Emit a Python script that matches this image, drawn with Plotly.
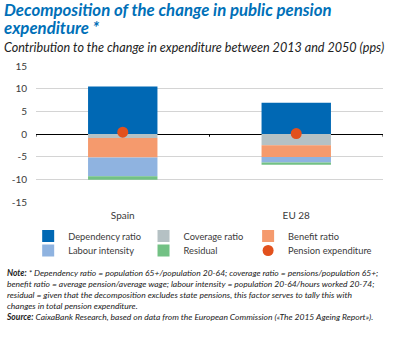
import plotly.graph_objects as go

# Contribution of each factor to the change in public pension expenditure, 2013-2050 (pps)
countries = ["Spain", "EU 28"]
dependency_ratio = [10.5, 6.9]
coverage_ratio = [-0.9, -2.5]
benefit_ratio = [-4.3, -2.6]
labour_intensity = [-4.1, -1.2]
residual = [-0.8, -0.5]
pension_expenditure = [0.4, 0.1]

y_ticks = [15, 10, 5, 0, -5, -10, -15]
y_tick_labels = ["15", "10", "5", "0", "-5", "-10", "-15"]

TEXT = "#3a3a3a"
BASE_FONT = "Lato"

W, H = 396, 338
ML, MR, MT, MB = 28, 13, 66, 136
PW, PH = W - ML - MR, H - MT - MB


def px_x(x):
    return (x - ML) / PW


def px_y(y):
    return (H - MB - y) / PH


# legend slot (left px, row centre px) for each series: 3 columns x 2 rows
legend_cols = [20, 138, 245]
legend_rows = [236, 250.5]

bar_series = [
    ("Dependency ratio", dependency_ratio, "#0068b4"),
    ("Coverage ratio", coverage_ratio, "#b5c1c4"),
    ("Benefit ratio", benefit_ratio, "#f59a6d"),
    ("Labour intensity", labour_intensity, "#8fb3e0"),
    ("Residual", residual, "#72c184"),
]

legend_ids = ["legend", "legend2", "legend3", "legend4", "legend5", "legend6"]

fig = go.Figure()
for i, (name, values, color) in enumerate(bar_series):
    fig.add_trace(go.Bar(
        x=countries, y=values, name=name, marker_color=color,
        marker_line_width=0, width=0.4, legend=legend_ids[i],
    ))

fig.add_trace(go.Scatter(
    x=countries, y=pension_expenditure, name="Pension expenditure",
    mode="markers", marker=dict(color="#e2511d", size=11),
    legend=legend_ids[5],
))

# small category-boundary ticks under the zero line
for xb in [-0.5, 0.5, 1.5]:
    fig.add_shape(type="line", xref="x", yref="y", x0=xb, x1=xb, y0=0, y1=-0.6,
                  line=dict(color="#000000", width=1))

legend_layouts = {}
for i, lid in enumerate(legend_ids):
    legend_layouts[lid] = dict(
        x=px_x(legend_cols[i % 3]), y=px_y(legend_rows[i // 3]),
        orientation="h", xanchor="left", yanchor="middle",
        font=dict(family=BASE_FONT, size=9.3, color=TEXT),
        bgcolor="rgba(0,0,0,0)",
        itemclick=False, itemdoubleclick=False,
    )

# title (2 lines) + subtitle in one block; line pitch comes from the base font size
header_text = (
    "<span style='font-size:16.8px;color:#0070b8'><b><i>Decomposition of the change in public pension</i></b></span><br>"
    "<span style='font-size:16.8px;color:#0070b8'><b><i>expenditure *</i></b></span><br>"
    "<span style='font-size:12.6px'><i>Contribution to the change in expenditure between 2013 and 2050 (pps)</i></span>"
)

note_text = (
    "<b><i>Note:</i></b><i> * Dependency ratio = population 65+/population 20-64; coverage ratio = pensions/population 65+;<br>"
    "benefit ratio = average pension/average wage; labour intensity = population 20-64/hours worked 20-74;<br>"
    "residual = given that the decomposition excludes state pensions, this factor serves to tally this with<br>"
    "changes in total pension expenditure.</i><br>"
    "<b><i>Source:</i></b><i> CaixaBank Research, based on data from the European Commission («The 2015 Ageing Report»).</i>"
)


def text_ann(text, y, size, color, xshift=-7):
    return dict(
        xref="paper", yref="paper", x=px_x(0), y=px_y(y), xshift=xshift,
        xanchor="left", yanchor="top", align="left", showarrow=False,
        text=text, font=dict(family=BASE_FONT, size=size, color=color),
    )


fig.update_layout(
    width=W, height=H,
    margin=dict(l=ML, r=MR, t=MT, b=MB),
    paper_bgcolor="white", plot_bgcolor="white",
    barmode="relative",
    showlegend=True,
    xaxis=dict(
        showgrid=False, showline=False, zeroline=False, ticks="",
        tickfont=dict(family=BASE_FONT, size=10, color=TEXT),
        ticklabelstandoff=6,
        range=[-0.5, 1.5],
    ),
    yaxis=dict(
        range=[-15, 15], tickvals=y_ticks, ticktext=y_tick_labels,
        showgrid=True, gridcolor="#d4d4d4", gridwidth=1,
        zeroline=True, zerolinecolor="#000000", zerolinewidth=1,
        showline=False, ticks="",
        tickfont=dict(family=BASE_FONT, size=10, color=TEXT),
        ticklabelstandoff=8,
    ),
    annotations=[
        text_ann(header_text, -3.5, 13.85, "#222222"),
        text_ann(note_text, 266, 8.5, "#222222", xshift=-5),
    ],
    **legend_layouts,
)

fig.write_html("out.html")
